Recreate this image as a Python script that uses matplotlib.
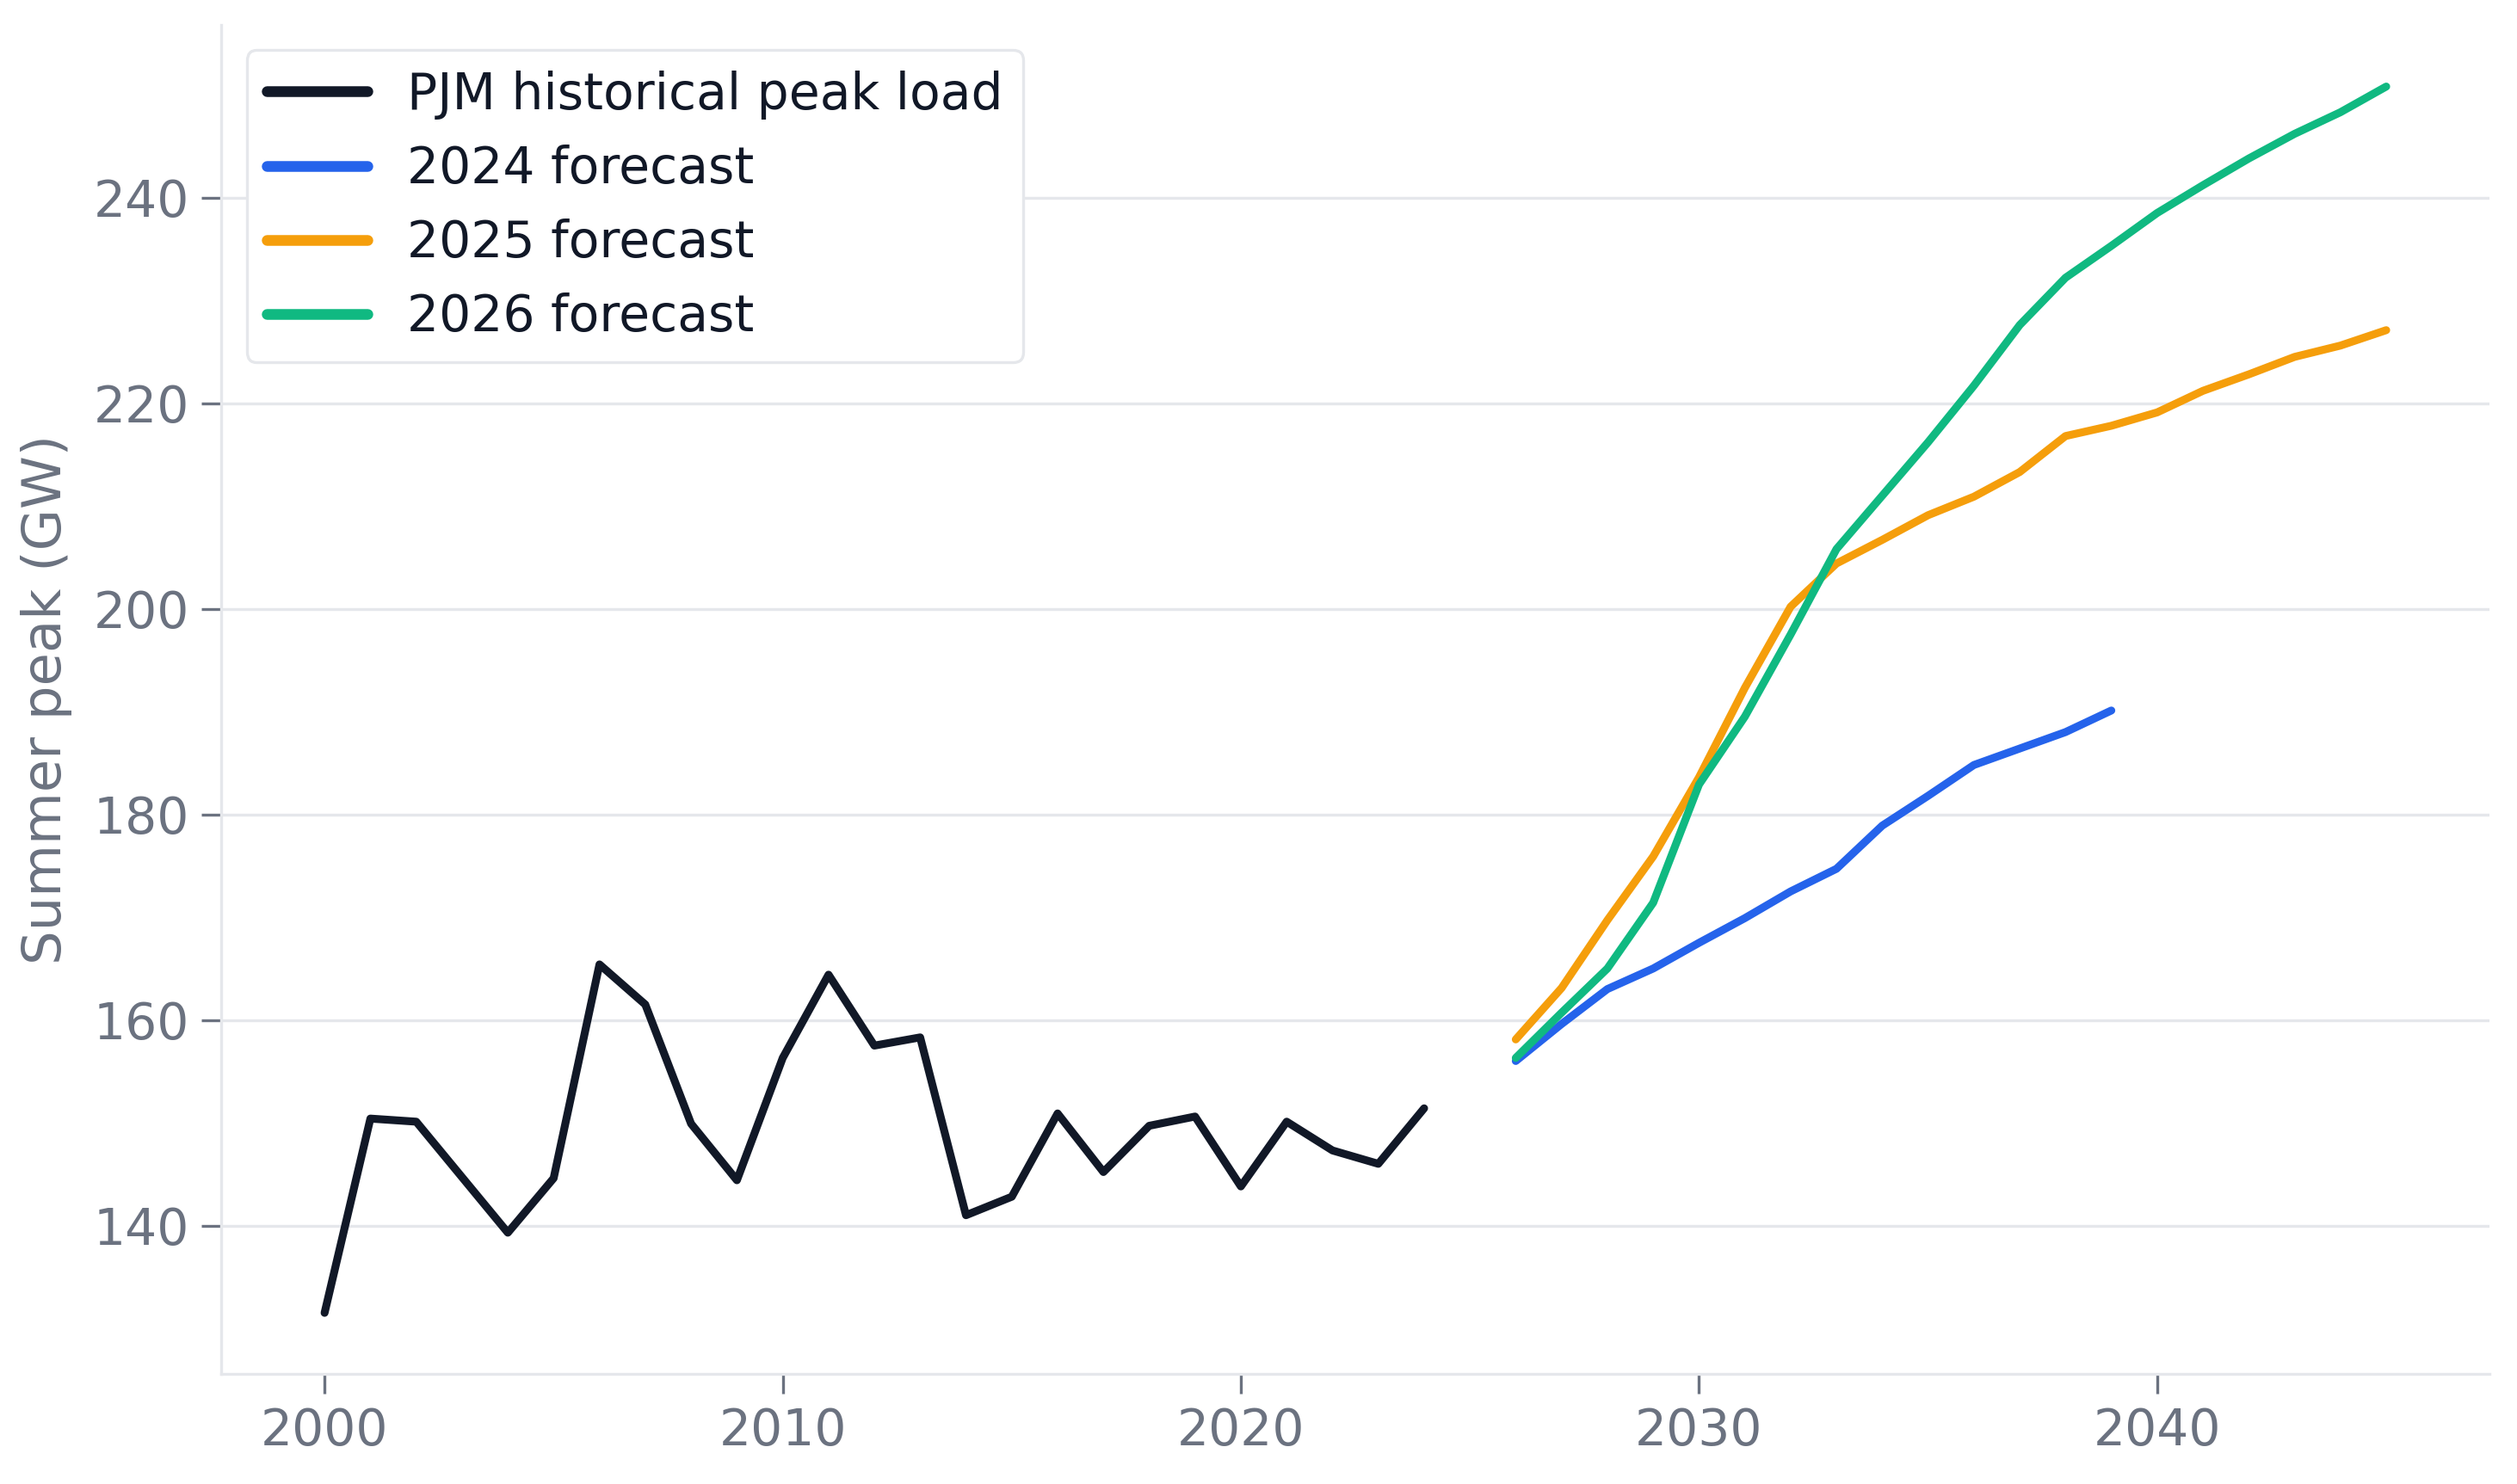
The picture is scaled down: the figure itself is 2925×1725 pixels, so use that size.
import matplotlib
matplotlib.use('Agg')
import matplotlib.pyplot as plt

# PJM summer peak load, historical + forecast vintages (GW)
hist_years = list(range(2000, 2025))
hist_load = [131.5, 150.4, 150.1, 144.7, 139.3, 144.6, 165.4, 161.5, 149.9, 144.4,
             156.3, 164.4, 157.5, 158.3, 141.0, 142.8, 150.9, 145.2, 149.7, 150.6,
             143.8, 150.1, 147.3, 146.0, 151.4]

f24_years = list(range(2026, 2040))
f24_load = [156.0, 159.6, 163.0, 165.0, 167.5, 169.9, 172.5, 174.7, 178.9, 181.8,
            184.8, 186.4, 188.0, 190.1]

f25_years = list(range(2026, 2046))
f25_load = [158.1, 163.1, 169.7, 175.9, 183.6, 192.3, 200.2, 204.4, 206.7, 209.1,
            210.9, 213.3, 216.8, 217.8, 219.1, 221.2, 222.8, 224.5, 225.6, 227.1]

f26_years = list(range(2026, 2046))
f26_load = [156.3, 160.7, 165.0, 171.4, 182.9, 189.5, 197.5, 205.8, 211.0, 216.2,
            221.7, 227.6, 232.2, 235.3, 238.5, 241.2, 243.8, 246.2, 248.3, 250.8]

GRAY = '#6b7280'
LIGHT = '#e5e7eb'
INK = '#111827'

plt.rcParams['font.family'] = ['DejaVu Sans']
plt.rcParams['font.size'] = 14

fig, ax = plt.subplots(figsize=(9.75, 5.75), dpi=300)
fig.subplots_adjust(left=0.088, right=0.989, bottom=0.074, top=0.983)

lw = 2.2
ax.plot(hist_years, hist_load, color=INK, lw=lw, solid_capstyle='round',
        label='PJM historical peak load')
ax.plot(f24_years, f24_load, color='#2563eb', lw=lw, solid_capstyle='round', label='2024 forecast')
ax.plot(f25_years, f25_load, color='#f59e0b', lw=lw, solid_capstyle='round', label='2025 forecast')
ax.plot(f26_years, f26_load, color='#10b981', lw=lw, solid_capstyle='round', label='2026 forecast')

ax.set_ylabel('Summer peak (GW)', color=GRAY, fontsize=15, labelpad=6)
ax.set_yticks([140, 160, 180, 200, 220, 240])
ax.set_xticks([2000, 2010, 2020, 2030, 2040])

ax.grid(axis='y', color=LIGHT, lw=0.8)
ax.set_axisbelow(True)
for side in ['top', 'right']:
    ax.spines[side].set_visible(False)
for side in ['left', 'bottom']:
    ax.spines[side].set_color(LIGHT)
    ax.spines[side].set_linewidth(0.8)
ax.tick_params(colors=GRAY, labelsize=14, length=5.5, width=0.8, labelcolor=GRAY)

leg = ax.legend(loc='upper left', fontsize=14, frameon=True, fancybox=True,
                edgecolor=LIGHT, framealpha=1, labelcolor=INK)
leg.get_frame().set_linewidth(0.8)
for h in leg.get_lines():
    h.set_linewidth(3)

fig.savefig('out.png', dpi=300)
